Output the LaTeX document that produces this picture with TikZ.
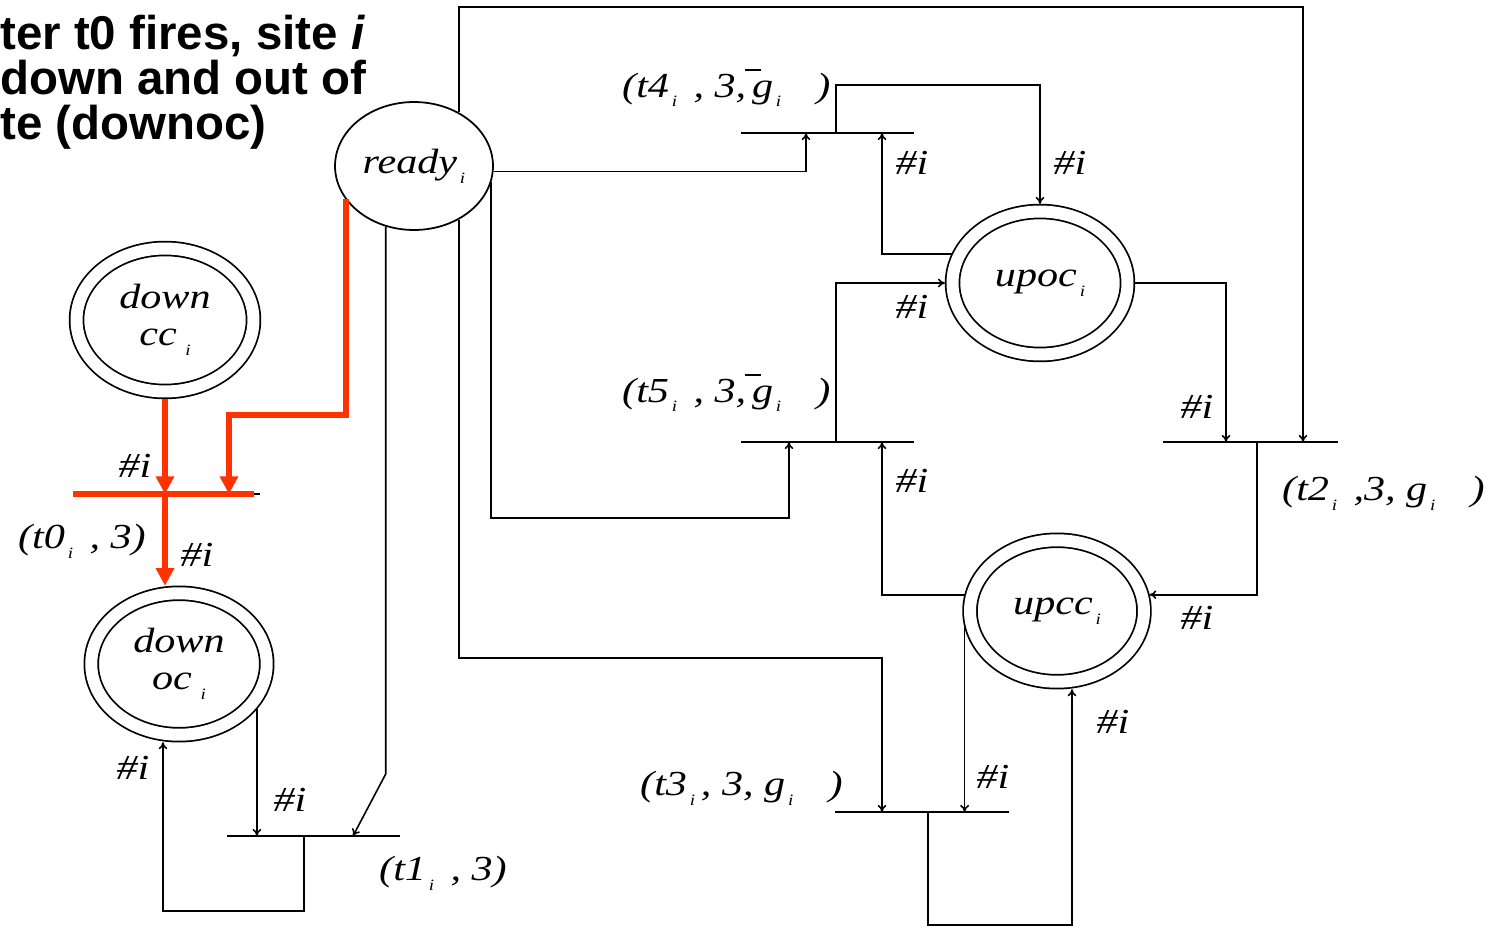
\documentclass[tikz,border=0pt]{standalone}
\usepackage{fontspec}
\usetikzlibrary{arrows.meta, shapes.geometric, calc}
\newfontfamily\netfont{Liberation Serif}[FakeStretch=1.2]
\newfontfamily\titlefont{Liberation Sans}
\definecolor{pnred}{HTML}{FF3300}
\newcommand{\lsub}[1]{\kern0.08em\raisebox{-0.6ex}{\fontsize{9pt}{9pt}\selectfont #1}}
\newcommand{\gbar}{\rlap{\kern-0.2em\raisebox{0.75em}{\rule{0.45em}{0.05em}}}g}

\begin{document}
\begin{tikzpicture}[x=0.02cm, y=-0.02cm,
  every node/.style={font=\netfont\itshape\fontsize{20pt}{23pt}\selectfont},
  place/.style={ellipse, draw, line width=1pt, align=center, inner sep=0pt},
  dplace/.style={place, double, double distance=0.24cm, outer sep=0.15cm},
  trans/.style={rectangle, draw, line width=1pt, minimum height=0pt, inner sep=0pt},
  arc/.style={-{To[length=4pt,width=5pt]}, line width=0.9pt},
  hlline/.style={pnred, line width=3.4pt},
  hlarc/.style={hlline, -{Triangle[length=10pt,width=10pt]}},
  headline/.style={font=\titlefont\bfseries\fontsize{27pt}{25pt}\selectfont, anchor=base west, inner sep=0pt},
]
\useasboundingbox (0,0) rectangle (1485,926);
\node[headline] (head1) at (0,50) {ter t0 fires, site \textit{i}};
\node[headline] (head2) at (0,95) {down and out of};
\node[headline] (head3) at (0,140) {te (downoc)};

\node[place, minimum width=3.16cm, minimum height=2.56cm] (ready) at (414,166) {ready\lsub{i}};
\node[dplace, minimum width=3.54cm, minimum height=2.86cm] (downcc) at (165,320) {down\\[-2pt]cc\,\lsub{i}};
\node[dplace, minimum width=3.51cm, minimum height=2.83cm] (downoc) at (179,664) {down\\[-2pt]oc\,\lsub{i}};
\node[dplace, minimum width=3.5cm, minimum height=2.86cm] (upoc) at (1040,283) {upoc\lsub{i}};
\node[dplace, minimum width=3.48cm, minimum height=2.83cm] (upcc) at (1057,611) {upcc\lsub{i}};

\node[trans, minimum width=3.46cm] (t0) at (173.5,494) {};
\node[trans, minimum width=3.46cm] (t1) at (313.5,836) {};
\node[trans, minimum width=3.46cm] (t4) at (827.5,133) {};
\node[trans, minimum width=3.46cm] (t5) at (827.5,442) {};
\node[trans, minimum width=3.5cm] (t2) at (1250.5,442) {};
\node[trans, minimum width=3.48cm] (t3) at (922,812) {};

\node[anchor=west] (t0lab) at (12,541) {(t0\lsub{i}\, , 3)};
\node[anchor=west] (t1lab) at (373,873) {(t1\lsub{i}\, , 3)};
\node[anchor=west] (t4lab) at (616,88) {(t4\lsub{i}\, , 3,\,\gbar\lsub{i}\quad)};
\node[anchor=west] (t5lab) at (616,393) {(t5\lsub{i}\, , 3,\,\gbar\lsub{i}\quad)};
\node[anchor=west] (t2lab) at (1276,493) {(t2\lsub{i}\, ,3, g\lsub{i}\quad)};
\node[anchor=west] (t3lab) at (634,788) {(t3\lsub{i}\,, 3, g\lsub{i}\quad)};

\node (m1) at (135,466) {\#i};
\node (m2) at (197,555) {\#i};
\node (m3) at (133,768) {\#i};
\node (m4) at (290,800) {\#i};
\node (m5) at (912,163) {\#i};
\node (m6) at (1070,163) {\#i};
\node (m7) at (912,307) {\#i};
\node (m8) at (912,481) {\#i};
\node (m9) at (1197,407) {\#i};
\node (m10) at (1197,618) {\#i};
\node (m11) at (993,777) {\#i};
\node (m12) at (1113,722) {\#i};

\coordinate (k1) at (386,774);
\draw[arc] (ready.50) |- (1303,7) -- (1303,0 |- t2);
\draw[arc] (ready.-4) -| (806,0 |- t4);
\draw[arc] (ready.-12) |- (789,518) -- (789,0 |- t5);
\draw[arc] (ready.-50) |- (882,658) -- (882,0 |- t3);
\draw[arc] (ready.-115) -- (ready.-115 |- k1) -- (353,0 |- t1);
\draw[arc] (downoc.-30) -- (downoc.-30 |- t1);
\draw[arc] (304,0 |- t1) |- (163,911) -- (163,0 |- downoc.south);
\draw[arc] (upoc.162) -| (882,0 |- t4);
\draw[arc] (836,0 |- t4) -- (836,85) -| (upoc.north);
\draw[arc] (836,0 |- t5) |- (upoc.west);
\draw[arc] (upoc.east) -| (1226,0 |- t2);
\draw[arc] (upcc.170) -| (882,0 |- t5);
\draw[arc] (1257,0 |- t2) |- (upcc.10);
\draw[arc] (upcc.190) -- (upcc.190 |- t3);
\draw[arc] (928,0 |- t3) |- (1072,925) -- (1072,0 |- upcc.south);

\draw[hlline] (73,0 |- t0) -- (254,0 |- t0);
\draw[hlarc] (downcc.south) -- (downcc.south |- t0);
\draw[hlarc] (ready.206) |- (229,415) -- (229,0 |- t0);
\draw[hlarc] (165,0 |- t0) -- (165,0 |- downoc.north);
\end{tikzpicture}
\end{document}
